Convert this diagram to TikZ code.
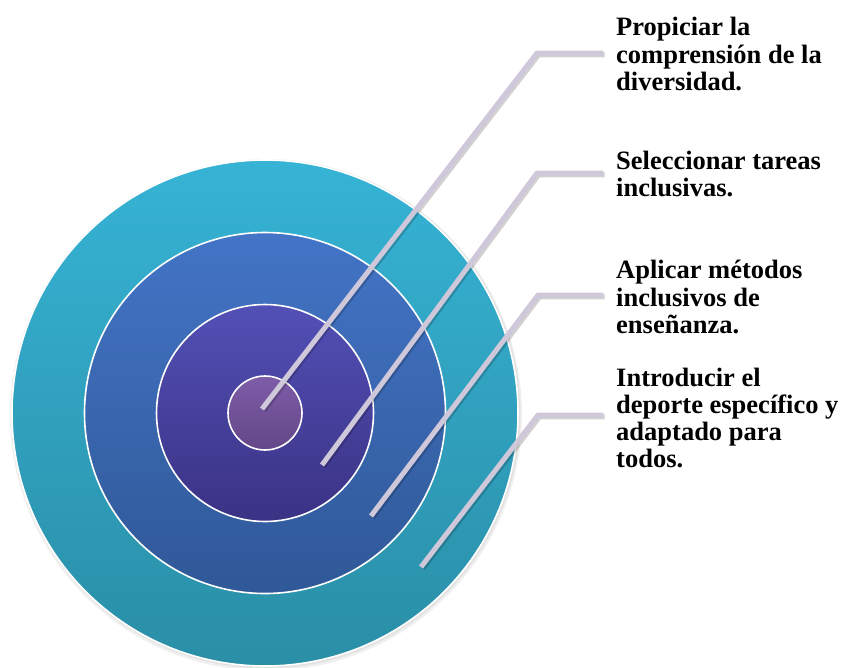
\documentclass[tikz,border=0pt]{standalone}
\usepackage{fontspec}
\setmainfont{Liberation Serif}
\definecolor{outerT}{HTML}{36B3D5}
\definecolor{outerB}{HTML}{2A8EA6}
\definecolor{secT}{HTML}{4374C6}
\definecolor{secB}{HTML}{2F5897}
\definecolor{thiT}{HTML}{5350B6}
\definecolor{thiB}{HTML}{3A3284}
\definecolor{innT}{HTML}{7E5CA8}
\definecolor{innB}{HTML}{634787}
\definecolor{leader}{HTML}{CEC8DA}
\begin{document}
\begin{tikzpicture}[x=1pt,y=-1pt,
  ring/.style={circle,draw=white,line width=1.6pt,inner sep=0pt,outer sep=0pt},
  leadline/.style={draw=leader,line width=5pt,line join=round},
  leadshadow/.style={draw=black,opacity=0.18,line width=5.5pt,line join=round},
  label/.style={anchor=west,align=left,inner sep=0pt,font=\fontsize{26.5}{27.3}\selectfont\bfseries}]
\useasboundingbox (0,0) rectangle (843,667);
% soft shadow of outer disc
\fill[black,opacity=0.06] (266,415) circle (256);
\fill[black,opacity=0.06] (266,414) circle (254.5);
\node[ring,minimum size=506pt,top color=outerT,bottom color=outerB] (c4) at (265,413) {};
\node[ring,minimum size=361pt,top color=secT,bottom color=secB] (c3) at (265,413) {};
\node[ring,minimum size=217pt,top color=thiT,bottom color=thiB] (c2) at (265,413) {};
\node[ring,minimum size=74pt,top color=innT,bottom color=innB] (c1) at (265,413) {};
% connector points
\coordinate (e1) at (262,409); \coordinate (b1) at (537,53);  \coordinate (h1) at (603,53);
\coordinate (e2) at (322,465); \coordinate (b2) at (537,173); \coordinate (h2) at (603,173);
\coordinate (e3) at (371,516); \coordinate (b3) at (538,295); \coordinate (h3) at (603,295);
\coordinate (e4) at (421,567); \coordinate (b4) at (538,415); \coordinate (h4) at (603,415);
\foreach \i in {1,2,3,4}{
  \draw[leadshadow,transform canvas={shift={(1.5pt,-1.5pt)}}] (e\i) -- (b\i) -- (h\i);
  \draw[leadline] (e\i) -- (b\i) -- (h\i);
}
% labels
\node[label] (t1) at (616,54) {Propiciar la\\comprensión de la\\diversidad.};
\node[label] (t2) at (616,174) {Seleccionar tareas\\inclusivas.};
\node[label] (t3) at (616,297) {Aplicar métodos\\inclusivos de\\enseñanza.};
\node[label] (t4) at (616,418) {Introducir el\\deporte específico y\\adaptado para\\todos.};
\end{tikzpicture}
\end{document}
